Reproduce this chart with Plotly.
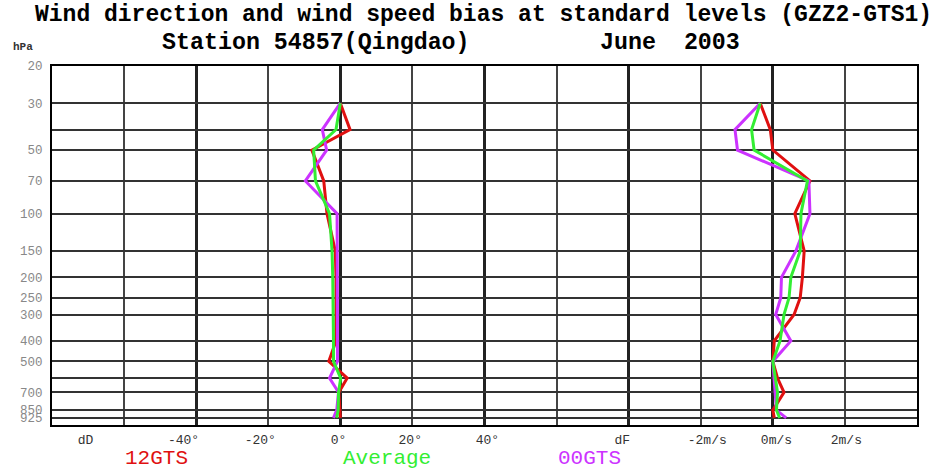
import math
import plotly.graph_objects as go

# ---- data ----
levels = [30, 40, 50, 70, 100, 150, 200, 250, 300, 400, 500, 600, 700, 850, 925]

dir_12gts = [0, 2.7, -7.9, -4.6, -3.7, -1.4, -1.2, -1.2, -1.2, -1.2, -3.2, 1.9, -0.4, -0.2, 0.0]
dir_avg = [0, -1.2, -7.4, -6.9, -3.0, -2.3, -2.1, -2.0, -2.0, -1.9, -1.9, 0.1, -0.5, -0.6, -1.0]
dir_00gts = [0, -5.0, -3.8, -9.7, -0.9, -0.8, -0.8, -0.8, -0.8, -0.8, -0.8, -3.0, -0.5, -1.0, -1.9]

spd_12gts = [-0.35, -0.07, 0.0, 1.03, 0.61, 0.87, 0.82, 0.76, 0.59, 0.04, 0.0, 0.13, 0.31, 0.0, 0.04]
spd_avg = [-0.35, -0.59, -0.52, 0.96, 0.78, 0.76, 0.50, 0.45, 0.31, 0.20, 0.0, 0.08, 0.13, 0.10, 0.19]
spd_00gts = [-0.35, -1.05, -0.98, 1.0, 1.03, 0.64, 0.24, 0.22, 0.08, 0.50, 0.0, 0.03, 0.05, 0.10, 0.37]

series_names = ["12GTS", "Average", "00GTS"]
series_colors = ["#e01010", "#33ee33", "#cc33ff"]

y_tickvals = [20, 30, 40, 50, 70, 100, 150, 200, 250, 300, 400, 500, 600, 700, 850, 925]
y_ticktext = ["20", "30", "", "50", "70", "100", "150", "200", "250", "300", "400", "500", "", "700", "850", "925"]

x_label_vals = [-70.7, -43.5, -22.2, -0.5, 19.4, 40.8, 78.2, 101.8, 121.0, 140.4]
x_label_text = ["dD", "-40°", "-20°", "0°", "20°", "40°", "dF", "-2m/s", "0m/s", "2m/s"]

mono = "Liberation Mono, DejaVu Sans Mono, monospace"

fig = go.Figure()

dir_series = [dir_12gts, dir_00gts, dir_avg]
spd_series = [spd_12gts, spd_00gts, spd_avg]
order = [0, 2, 1]  # draw red, magenta, green
for vals, idx in zip(dir_series, order):
    fig.add_trace(go.Scatter(x=vals, y=levels, mode="lines", xaxis="x", yaxis="y",
                             line=dict(color=series_colors[idx], width=3),
                             name=series_names[idx], showlegend=False))
for vals, idx in zip(spd_series, order):
    fig.add_trace(go.Scatter(x=vals, y=levels, mode="lines", xaxis="x2", yaxis="y",
                             line=dict(color=series_colors[idx], width=3),
                             name=series_names[idx], showlegend=False))

W, H = 940, 472
ML, MR, MT, MB = 52, 23, 66, 47
fig.update_layout(
    width=W, height=H,
    margin=dict(l=ML, r=MR, t=MT, b=MB, autoexpand=False),
    paper_bgcolor="white", plot_bgcolor="white",
    xaxis=dict(range=[-80, 160], tick0=-80, dtick=40, showgrid=True,
               gridcolor="#222222", gridwidth=2.5, showticklabels=False,
               zeroline=False, showline=True, mirror=True, linecolor="black",
               linewidth=2, ticks="",
               minor=dict(tick0=-80, dtick=20, showgrid=True, gridcolor="#444444",
                          gridwidth=1.5, ticks="")),
    xaxis2=dict(range=[-20, 4], overlaying="x", visible=False),
    xaxis3=dict(range=[-80, 160], overlaying="x", side="bottom", anchor="y",
                tickmode="array", tickvals=x_label_vals, ticktext=x_label_text,
                showgrid=False, zeroline=False, ticks="", ticklabelstandoff=5,
                tickfont=dict(family=mono, size=13, color="#333333")),
    yaxis=dict(type="log", range=[math.log10(1000), math.log10(20)],
               tickmode="array", tickvals=y_tickvals, ticktext=y_ticktext,
               showgrid=True, gridcolor="#333333", gridwidth=1.5,
               zeroline=False, showline=True, mirror=True, linecolor="black",
               linewidth=2, ticks="", ticklabelstandoff=5,
               tickfont=dict(family=mono, size=12.5, color="#888888")),
)

# dummy trace to activate xaxis3
fig.add_trace(go.Scatter(x=[None], y=[None], xaxis="x3", yaxis="y", showlegend=False))

plot_h = H - MT - MB
top_y = 1 + MT / plot_h  # figure top edge in paper units

ann = [
    dict(text="<b>Wind direction and wind speed bias at standard levels (GZZ2-GTS1)</b>",
         x=0.499, y=top_y, size=23, color="black", ya="top"),
    dict(text="<b>Station 54857(Qingdao)</b>", x=0.3056, y=1.063, size=23.3, color="black", ya="middle"),
    dict(text="<b>June\u00a0\u00a02003</b>", x=0.7146, y=1.063, size=23.3, color="black", ya="middle"),
    dict(text="<b>hPa</b>", x=-0.034, y=1.052, size=11, color="#333333", ya="middle"),
]
for a in ann:
    fig.add_annotation(text=a["text"], x=a["x"], y=a["y"], xref="paper", yref="paper",
                       xanchor="center", yanchor=a["ya"], showarrow=False,
                       font=dict(family=mono, size=a["size"], color=a["color"]))

legend_x = [0.1207, 0.3876, 0.621]
bottom_y = -MB / plot_h  # figure bottom edge in paper units
for name, col, lx in zip(series_names, series_colors, legend_x):
    fig.add_annotation(text=name, x=lx, y=bottom_y, xref="paper", yref="paper",
                       xanchor="center", yanchor="bottom", showarrow=False,
                       font=dict(family=mono, size=21, color=col))

# remove the browser's default 8px body margin so the figure fills the window
fig.write_html("out.html", config={"displayModeBar": False},
               post_script="document.body.style.margin='0px';")
